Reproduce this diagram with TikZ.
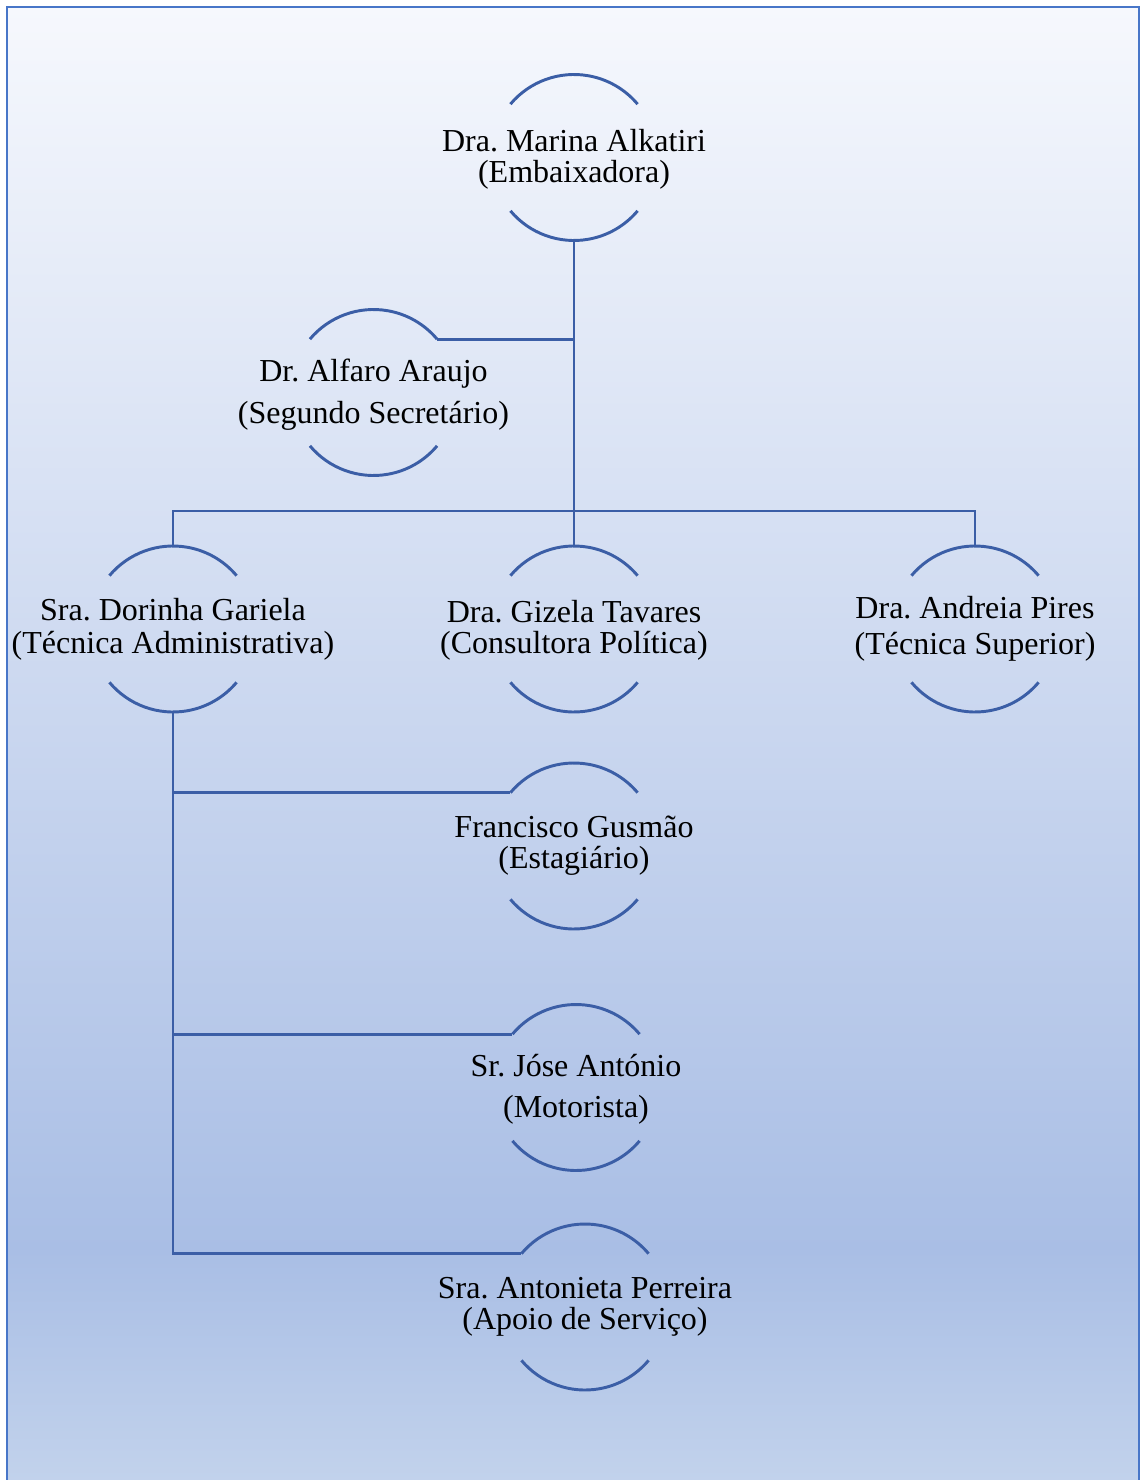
\documentclass[tikz,border=0pt]{standalone}
\usepackage{fontspec}
\setmainfont{Liberation Serif}
\frenchspacing
\definecolor{linec}{RGB}{59,94,166}
\definecolor{framec}{RGB}{72,118,200}
\definecolor{bgtop}{RGB}{246,248,253}
\definecolor{bgmid}{RGB}{169,190,229}
\definecolor{bgbot}{RGB}{195,211,236}
\tikzset{
  ring/.style={circle, minimum size=124.5pt, inner sep=0pt, outer sep=0pt, draw=none},
  nametext/.style={align=center, anchor=base, inner sep=0pt, font=\fontsize{24}{23.25}\selectfont},
  conn/.style={draw=linec, line width=2.2pt},
  arcline/.style={draw=linec, line width=2.2pt},
}
\newcommand{\ringarcs}[1]{%
  \draw[arcline] (#1.140) arc[start angle=140, end angle=40, radius=62.25pt];
  \draw[arcline] (#1.220) arc[start angle=220, end angle=320, radius=62.25pt];
}
\begin{document}
\begin{tikzpicture}[x=0.75pt, y=0.75pt]
\useasboundingbox (0,0) rectangle (1140,-1480);
% background
\shade[top color=bgtop, bottom color=bgmid] (7,-7) rectangle (1139,-1250);
\shade[top color=bgmid, bottom color=bgbot] (7,-1250) rectangle (1139,-1490);
\draw[framec, line width=2pt] (7,-1495) -- (7,-7) -- (1139,-7) -- (1139,-1495);

% rings
\node[ring] (m)  at (574,-157.5) {};
\node[ring] (a)  at (373.5,-392.5) {};
\node[ring] (d)  at (173,-629) {};
\node[ring] (g)  at (574,-629) {};
\node[ring] (an) at (975,-629) {};
\node[ring] (f)  at (574,-846) {};
\node[ring] (j)  at (576,-1087.5) {};
\node[ring] (ap) at (585,-1307) {};

\ringarcs{m}
\ringarcs{a}
\ringarcs{d}
\ringarcs{g}
\ringarcs{an}
\ringarcs{f}
\ringarcs{j}
\ringarcs{ap}

% texts (anchored at the baseline of the last line)
\node[nametext] (mt)  at (574,-183) {Dra. Marina Alkatiri\\(Embaixadora)};
\node[nametext] (at)  at (373.5,-423) {Dr. Alfaro Araujo\\[8pt](Segundo Secretário)};
\node[nametext] (dt)  at (173,-653) {Sra. Dorinha Gariela\\[1.5pt](Técnica Administrativa)};
\node[nametext] (gt)  at (574,-653) {Dra. Gizela Tavares\\(Consultora Política)};
\node[nametext] (ant) at (975,-654) {Dra. Andreia Pires\\[3.75pt](Técnica Superior)};
\node[nametext] (ft)  at (574,-868) {Francisco Gusmão\\(Estagiário)};
\node[nametext] (jt)  at (576,-1117) {Sr. Jóse António\\[7.5pt](Motorista)};
\node[nametext] (apt) at (585,-1329) {Sra. Antonieta Perreira\\(Apoio de Serviço)};

% connectors
\coordinate (bus) at (574,-511);
\draw[conn] (m.south) -- (g.north);
\draw[conn] (a.40) -- (a.40 -| m.south);
\draw[conn] (d.north) |- (bus) -| (an.north);
\draw[conn] (d.south) |- (f.140);
\draw[conn] (d.south) |- (j.140);
\draw[conn] (d.south) |- (ap.140);
\end{tikzpicture}
\end{document}
